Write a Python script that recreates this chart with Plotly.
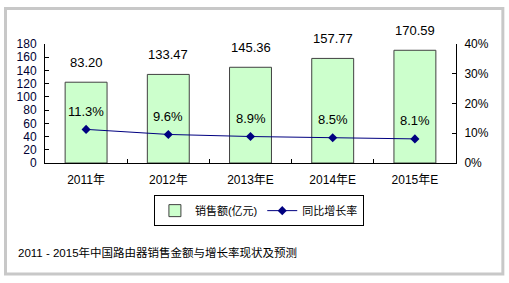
import plotly.graph_objects as go

categories = ["2011年", "2012年", "2013年E", "2014年E", "2015年E"]
bar_heights = [122.2, 134.0, 144.8, 158.2, 170.5]
bar_labels = ["83.20", "133.47", "145.36", "157.77", "170.59"]
growth = [0.113, 0.096, 0.089, 0.085, 0.081]
growth_labels = ["11.3%", "9.6%", "8.9%", "8.5%", "8.1%"]
title_text = "2011 - 2015年中国路由器销售金额与增长率现状及预测"

FONT = "Arial, Liberation Sans, Noto Sans CJK SC, sans-serif"

fig = go.Figure()
fig.add_trace(go.Bar(
    x=categories, y=bar_heights, name="销售额(亿元)",
    marker=dict(color="#ccffcc", line=dict(color="#404040", width=1)),
    width=0.51, yaxis="y",
))
fig.add_trace(go.Scatter(
    x=categories, y=growth, name="同比增长率", yaxis="y2",
    mode="lines+markers",
    line=dict(color="#000080", width=1),
    marker=dict(symbol="diamond", size=7, color="#000080"),
))

annotations = []
for c, h, t in zip(categories, bar_heights, bar_labels):
    annotations.append(dict(x=c, y=h, xref="x", yref="y", text=t, showarrow=False,
                            yshift=20, font=dict(size=13, color="#000000", family=FONT)))
for c, g, t in zip(categories, growth, growth_labels):
    annotations.append(dict(x=c, y=g, xref="x", yref="y2", text=t, showarrow=False,
                            yshift=18, font=dict(size=13, color="#000000", family=FONT)))
annotations.append(dict(x=-0.0706, y=-0.756, xref="paper", yref="paper", text=title_text,
                        showarrow=False, xanchor="left", yanchor="middle",
                        font=dict(size=11.5, color="#000000", family=FONT)))

fig.update_layout(
    width=509, height=283,
    margin=dict(l=45, r=53, t=44, b=120),
    paper_bgcolor="#ffffff", plot_bgcolor="#ffffff",
    font=dict(family=FONT, size=12, color="#000000"),
    showlegend=True,
    legend=dict(orientation="h", x=0.265, y=-0.27, xanchor="left", yanchor="top",
                bordercolor="#000000", borderwidth=1, font=dict(size=11),
                itemwidth=30, tracegroupgap=0),
    xaxis=dict(showline=True, linecolor="#000000", linewidth=1, ticks="inside",
               tickson="boundaries", ticklen=4, tickcolor="#000000",
               tickfont=dict(size=12), showgrid=False, ticklabelstandoff=6),
    yaxis=dict(range=[0, 180], dtick=20, showline=True, linecolor="#000000", linewidth=1,
               ticks="inside", ticklen=4, tickcolor="#000000", showgrid=False,
               zeroline=False, tickfont=dict(size=12, color="#000033"),
               ticklabelstandoff=5),
    yaxis2=dict(range=[0, 0.4], dtick=0.1, tickformat=".0%", overlaying="y", side="right",
                showline=True, linecolor="#000000", linewidth=1, ticks="inside", ticklen=4,
                tickcolor="#000000", showgrid=False, zeroline=False,
                tickfont=dict(size=12), ticklabelstandoff=5),
    annotations=annotations,
    shapes=[dict(type="rect", xref="paper", yref="paper", x0=-0.0961, x1=1.114,
                 y0=-0.933, y1=1.298, line=dict(color="#c8c8c8", width=3),
                 fillcolor="rgba(0,0,0,0)", layer="below")],
)

fig.write_html("out.html")
